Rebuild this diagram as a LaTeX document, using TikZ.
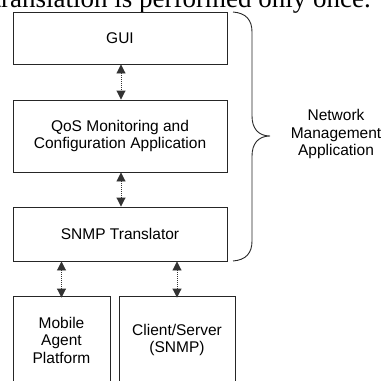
\documentclass[tikz,border=0pt]{standalone}
\usepackage{fontspec}
\setmainfont{Liberation Sans}
\newfontfamily\timesfont{Liberation Serif}
\usetikzlibrary{arrows.meta,calc}
\begin{document}
\begin{tikzpicture}[x=1pt,y=-1pt,
  box/.style={draw=black!85,line width=0.9pt,inner sep=0pt,align=center,
    font=\fontsize{15.5}{17.5}\selectfont},
  biarrow/.style={line width=0.9pt,black!80,dash pattern=on 1pt off 1pt,
    {Triangle[width=9pt,length=9pt]}-{Triangle[width=9pt,length=9pt]}},
  bracepath/.style={line width=0.9pt,black!85}
]
\useasboundingbox (0,0) rectangle (387,380);
\clip (0,0) rectangle (387,380);
\node[anchor=base east,inner sep=0pt,font=\timesfont\fontsize{27}{30}\selectfont] (cap) at (371,7) {translation is performed only once.};
\node[box,minimum width=214pt,minimum height=52pt] (gui) at (120,38) {GUI};
\node[box,minimum width=214pt,minimum height=72pt] (qos) at (120,136) {QoS Monitoring and\\Configuration Application};
\node[box,minimum width=214pt,minimum height=54pt] (snmp) at (120,234) {SNMP Translator};
\node[box,minimum width=97pt,minimum height=88pt] (mob) at (61.5,340) {Mobile\\Agent\\Platform};
\node[box,minimum width=116pt,minimum height=88pt] (cs) at (177,340) {Client/Server\\(SNMP)};
\draw[biarrow] ([xshift=1pt]gui.south) -- ([xshift=1pt]qos.north);
\draw[biarrow] ([xshift=1pt]qos.south) -- ([xshift=1pt]snmp.north);
\draw[biarrow] (snmp.south -| mob.north) -- ([yshift=-2pt]mob.north);
\draw[biarrow] (snmp.south -| cs.north) -- ([yshift=-2pt]cs.north);
\coordinate (bt) at (233,12);
\coordinate (bb) at (233,261);
\coordinate (tip) at (270,136);
\draw[bracepath] (bt) .. controls (246,13) and (252,20) .. (252,32)
  -- (252,116) .. controls (252,128) and (258,136) .. (tip)
  .. controls (258,136) and (252,144) .. (252,156)
  -- (252,241) .. controls (252,253) and (246,260) .. (bb);
\node[align=center,font=\fontsize{15.5}{17.5}\selectfont,inner sep=0pt] (nma) at (336,134) {Network\\Management\\Application};
\end{tikzpicture}
\end{document}
